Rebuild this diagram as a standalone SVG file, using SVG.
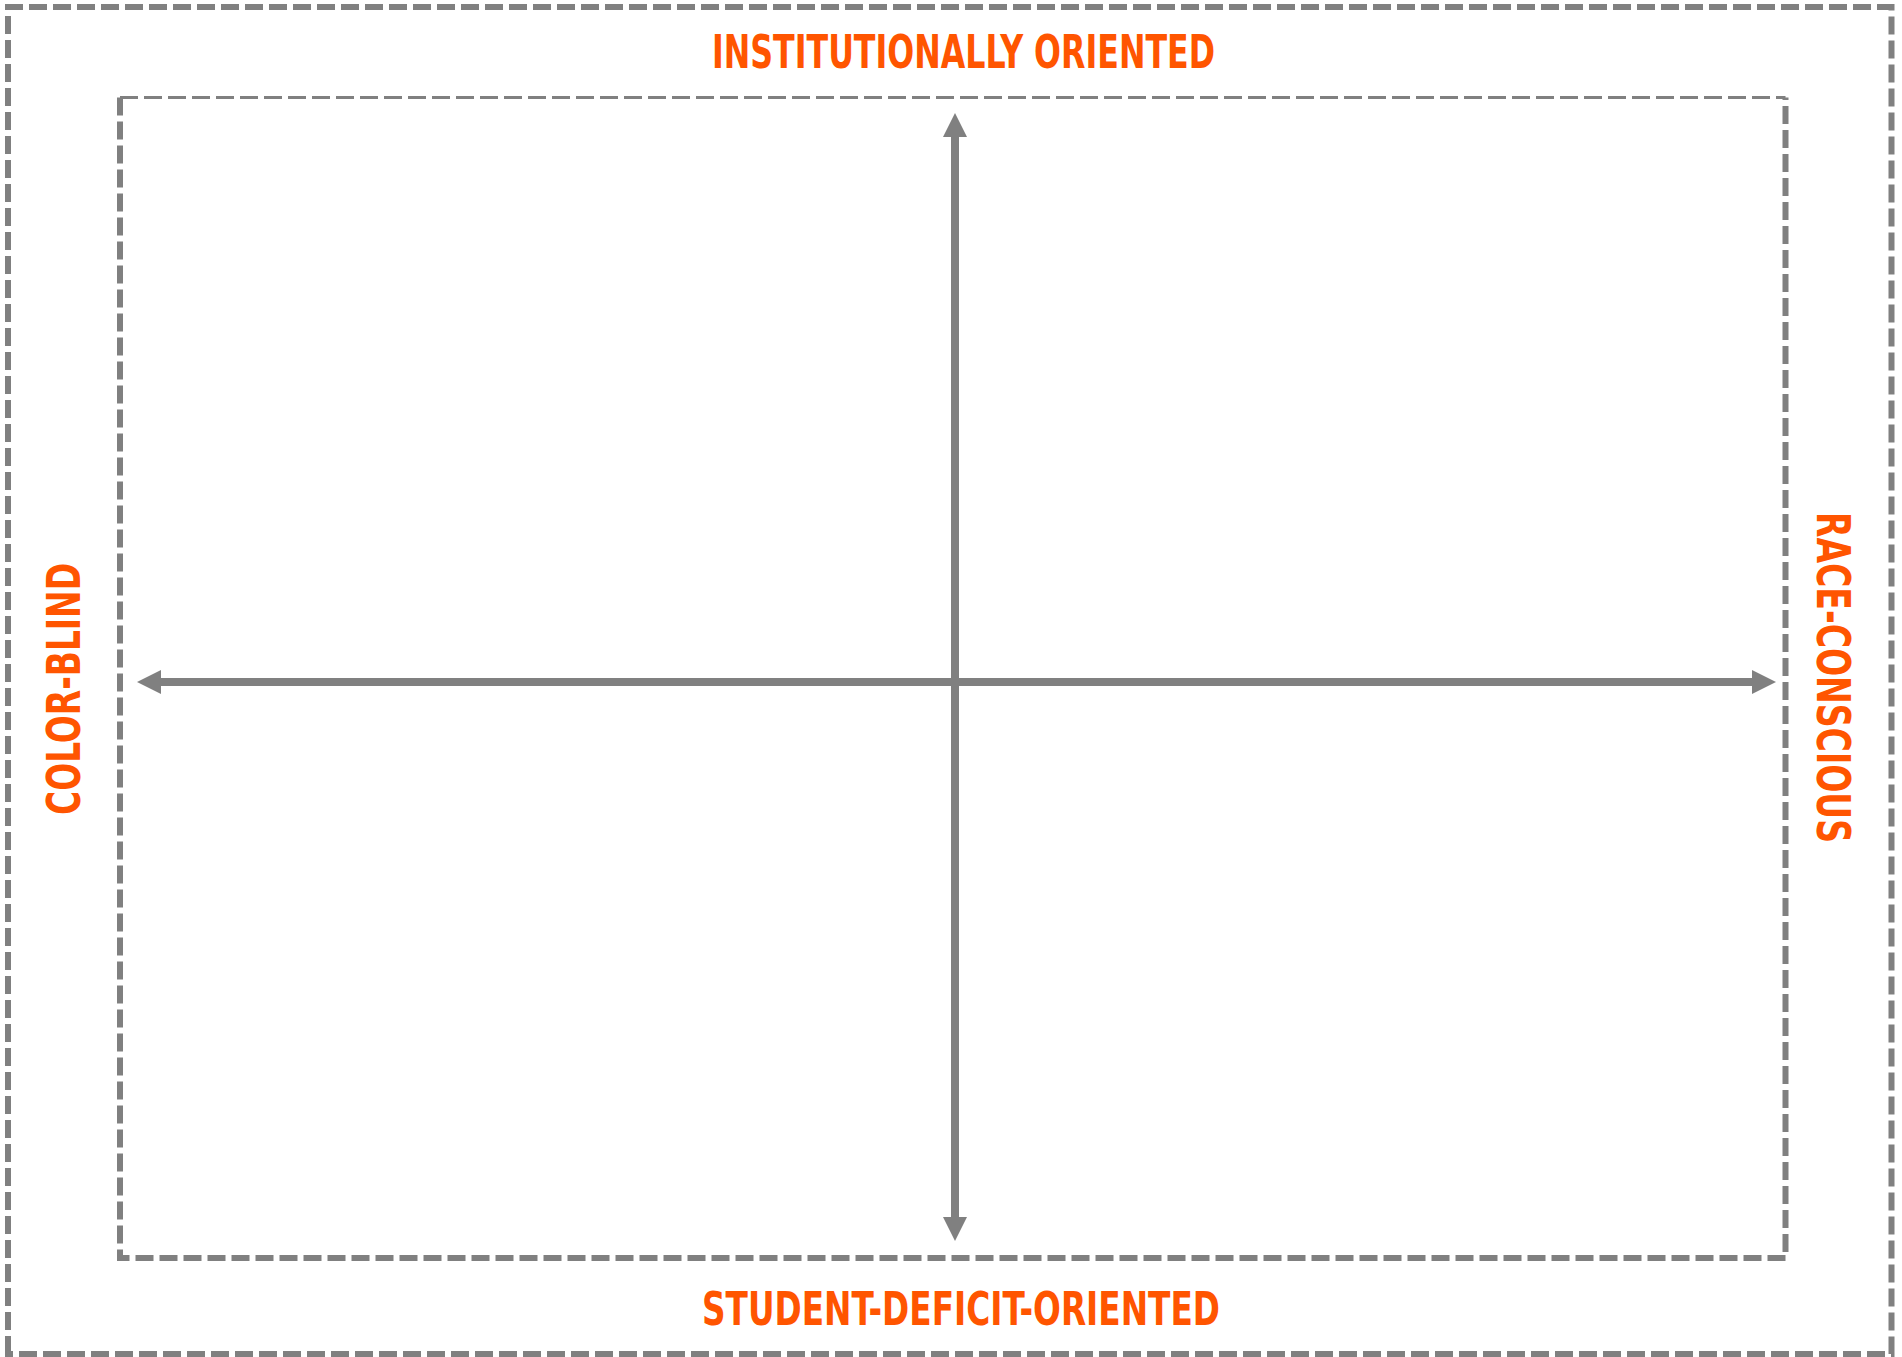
<svg xmlns="http://www.w3.org/2000/svg" width="1902" height="1357" viewBox="0 0 1902 1357">
  <style>
    .frame { fill: none; stroke: #808080; stroke-dasharray: 18 6; }
    .axis { stroke: #808080; stroke-width: 8; fill: none; }
    .label { font-family: "Liberation Sans Narrow", "DejaVu Sans Condensed", "Liberation Sans", sans-serif; font-weight: bold; font-size: 46px; fill: #FF5500; text-anchor: middle; }
  </style>
  <defs>
    <marker id="head" markerUnits="userSpaceOnUse" markerWidth="24" markerHeight="24" refX="0" refY="12" orient="auto-start-reverse" viewBox="0 0 24 24">
      <path d="M0,0 L24,12 L0,24 Z" fill="#808080"/>
    </marker>
  </defs>
  <rect width="1902" height="1357" fill="#ffffff"/>
  <g id="outer-frame">
    <path class="frame" stroke-width="6" d="M8,1354 L8,7 L1891.5,7 L1891.5,1354 Z"/>
  </g>
  <g id="inner-frame">
    <path class="frame" stroke-width="3" d="M120,97.5 L1785.5,97.5"/>
    <path class="frame" stroke-width="6" d="M120,97.5 L120,1258 L1785.5,1258 L1785.5,97.5"/>
  </g>
  <g id="connectors">
    <line class="axis" x1="161" y1="682" x2="1752" y2="682" marker-start="url(#head)" marker-end="url(#head)"/>
    <line class="axis" x1="955" y1="137" x2="955" y2="1217" marker-start="url(#head)" marker-end="url(#head)"/>
  </g>
  <g id="label-top">
    <text class="label" x="963.5" y="68" textLength="503" lengthAdjust="spacingAndGlyphs">INSTITUTIONALLY ORIENTED</text>
  </g>
  <g id="label-bottom">
    <text class="label" x="961" y="1325" textLength="518" lengthAdjust="spacingAndGlyphs">STUDENT-DEFICIT-ORIENTED</text>
  </g>
  <g id="label-left">
    <text class="label" transform="translate(80,689) rotate(-90)" x="0" y="0" textLength="252" lengthAdjust="spacingAndGlyphs">COLOR-BLIND</text>
  </g>
  <g id="label-right">
    <text class="label" transform="translate(1817,677.5) rotate(90)" x="0" y="0" textLength="331" lengthAdjust="spacingAndGlyphs">RACE-CONSCIOUS</text>
  </g>
</svg>
